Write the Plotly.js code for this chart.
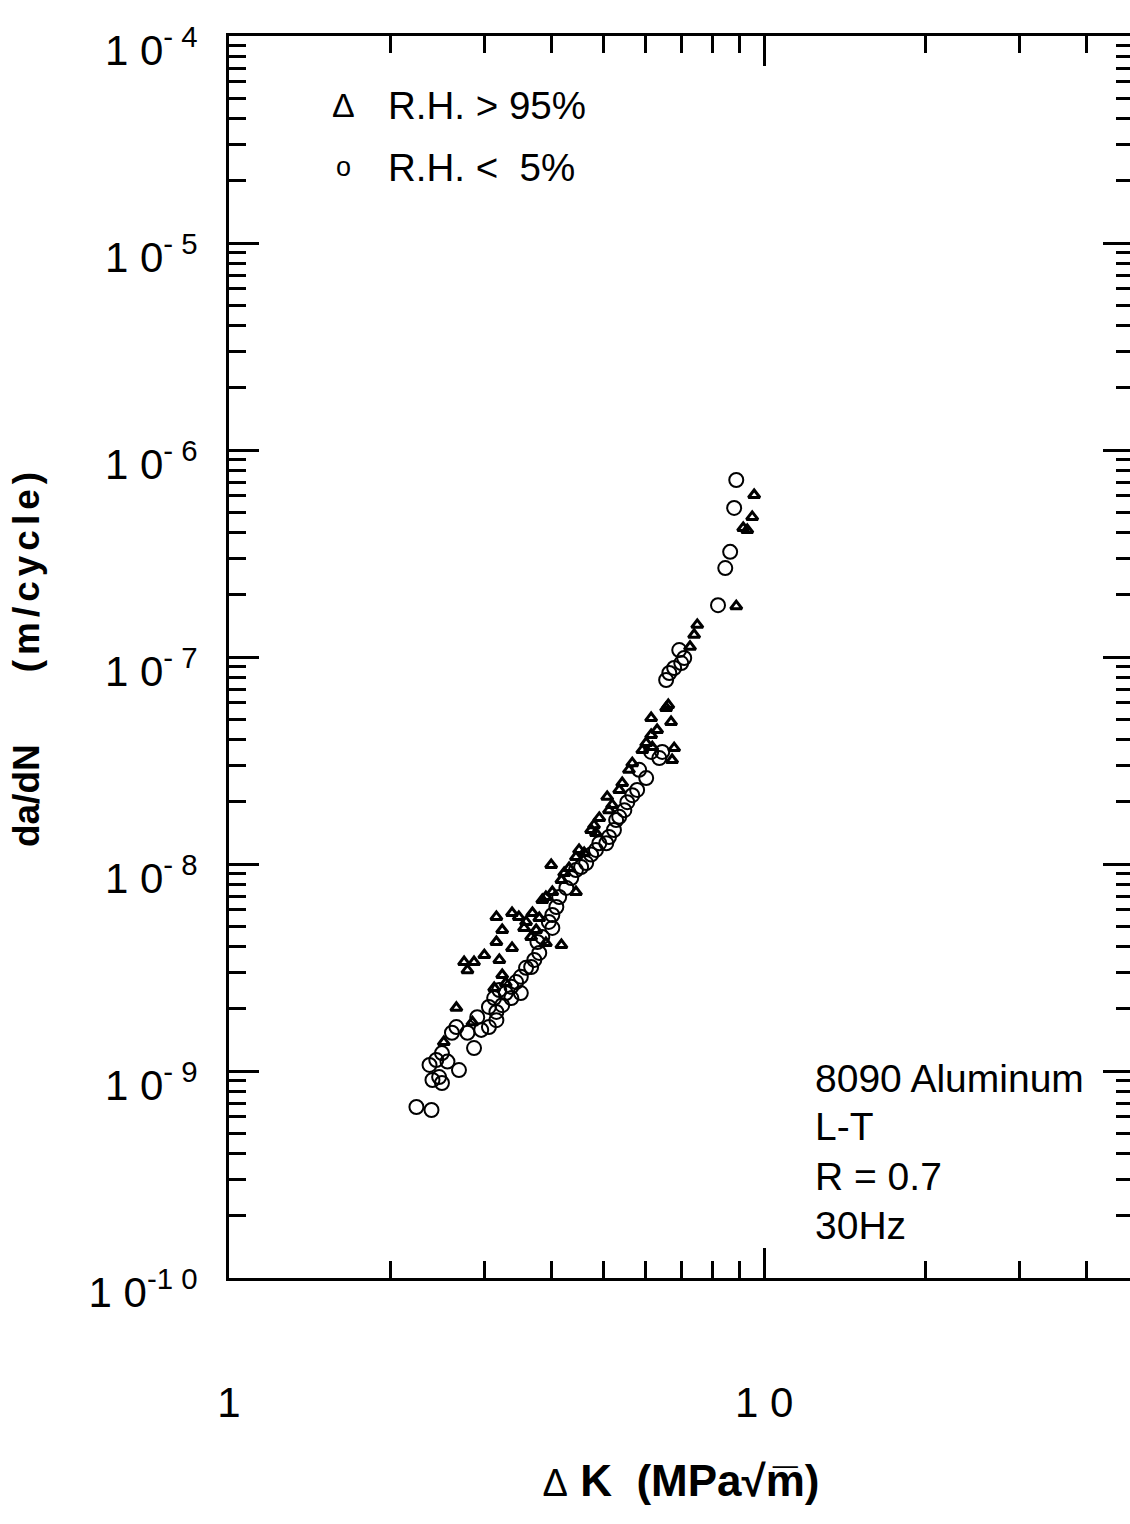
<!DOCTYPE html>
<html>
<head>
<meta charset="utf-8">
<script src="https://cdn.plot.ly/plotly-3.0.1.min.js"></script>
<style>
  html, body { margin: 0; padding: 0; background: #fff; overflow: hidden; }
  #chart { width: 1136px; height: 1524px; }
</style>
</head>
<body>
<div id="chart"></div>
<script>
// R.H. > 95% (triangles)
const dK_wet = [9.58, 9.50, 9.14, 9.30, 8.87, 7.50, 7.40, 7.27, 6.62, 6.56, 6.15, 6.70, 6.31, 6.15,
  6.02, 6.18, 5.92, 6.79, 6.73, 5.67, 5.59, 5.43, 5.36, 5.09, 5.20, 5.13, 4.92, 4.81, 4.75, 4.85,
  4.51, 4.61, 4.45, 4.00, 4.32, 4.23, 4.18, 4.02, 3.91, 3.85, 4.45, 3.38, 3.48, 3.59, 3.69, 3.80,
  3.75, 3.56, 3.67, 3.24, 3.16, 3.91, 4.18, 3.16, 3.00, 3.20, 3.38, 2.75, 2.87, 2.79, 3.24, 3.29,
  3.13, 2.66, 2.85, 2.52];
const dadN_wet = [6.06e-7, 4.75e-7, 4.20e-7, 4.11e-7, 1.76e-7, 1.43e-7, 1.28e-7, 1.12e-7, 5.86e-8, 5.67e-8, 5.07e-8, 4.85e-8, 4.44e-8, 4.20e-8,
  3.84e-8, 3.67e-8, 3.55e-8, 3.63e-8, 3.18e-8, 3.07e-8, 2.85e-8, 2.46e-8, 2.28e-8, 2.11e-8, 1.93e-8, 1.82e-8, 1.67e-8, 1.54e-8, 1.46e-8, 1.41e-8,
  1.17e-8, 1.13e-8, 1.08e-8, 9.89e-9, 9.56e-9, 9.05e-9, 8.37e-9, 7.32e-9, 6.93e-9, 6.70e-9, 7.32e-9, 5.80e-9, 5.55e-9, 5.25e-9, 5.80e-9, 5.48e-9,
  4.80e-9, 4.91e-9, 4.44e-9, 4.80e-9, 5.55e-9, 4.15e-9, 4.06e-9, 4.20e-9, 3.63e-9, 3.44e-9, 3.93e-9, 3.36e-9, 3.36e-9, 3.07e-9, 2.91e-9, 2.66e-9,
  2.52e-9, 2.02e-9, 1.72e-9, 1.38e-9];

// R.H. < 5% (circles)
const dK_dry = [8.87, 8.79, 8.64, 8.46, 8.20, 6.94, 6.79, 6.65, 6.56, 7.00, 7.09, 6.15, 6.45, 6.37,
  5.84, 6.02, 5.79, 5.67, 5.55, 5.48, 5.36, 5.29, 5.24, 5.13, 5.07, 4.92, 4.85, 4.75, 4.65, 4.55,
  4.45, 4.36, 4.27, 4.14, 4.09, 4.02, 3.96, 4.02, 3.85, 3.77, 3.80, 3.72, 3.67, 3.59, 3.51, 3.44,
  3.37, 3.20, 3.13, 3.29, 3.37, 3.51, 3.06, 3.16, 3.24, 2.91, 2.96, 3.06, 3.16, 2.79, 2.66, 2.61,
  2.87, 2.50, 2.44, 2.56, 2.37, 2.69, 2.47, 2.50, 2.40, 2.24, 2.39];
const dadN_dry = [7.16e-7, 5.25e-7, 3.22e-7, 2.69e-7, 1.78e-7, 1.08e-7, 8.85e-8, 8.37e-8, 7.74e-8, 9.35e-8, 9.89e-8, 3.48e-8, 3.48e-8, 3.25e-8,
  2.85e-8, 2.60e-8, 2.28e-8, 2.15e-8, 1.99e-8, 1.82e-8, 1.69e-8, 1.63e-8, 1.46e-8, 1.35e-8, 1.26e-8, 1.26e-8, 1.17e-8, 1.11e-8, 1.01e-8, 9.67e-9,
  9.35e-9, 8.56e-9, 7.66e-9, 6.93e-9, 6.20e-9, 5.67e-9, 5.25e-9, 4.91e-9, 4.44e-9, 4.20e-9, 3.72e-9, 3.44e-9, 3.18e-9, 3.15e-9, 2.85e-9, 2.69e-9,
  2.55e-9, 2.46e-9, 2.25e-9, 2.38e-9, 2.25e-9, 2.38e-9, 2.04e-9, 1.93e-9, 2.08e-9, 1.82e-9, 1.58e-9, 1.63e-9, 1.76e-9, 1.53e-9, 1.63e-9, 1.53e-9,
  1.29e-9, 1.22e-9, 1.13e-9, 1.11e-9, 1.07e-9, 1.01e-9, 9.35e-10, 8.75e-10, 9.05e-10, 6.70e-10, 6.48e-10];

const xTickVals = [1, 10, 100];
const xTickText = ['1', '1 0', '1 0 0'];
const yTickVals = [1e-10, 1e-9, 1e-8, 1e-7, 1e-6, 1e-5, 1e-4];
const yExponents = ['-1 0', '- 9', '- 8', '- 7', '- 6', '- 5', '- 4'];
const yTickText = yExponents.map(e => '1 0<sup>' + e + '</sup>');

const legendSymbols = ['Δ', 'o'];
const legendLabels = ['R.H. > 95%', 'R.H. <  5%'];
const noteLines = ['8090 Aluminum', 'L-T', 'R = 0.7', '30Hz'];

// minor tick positions (2..9 within each decade)
const xMinor = [];
for (let d = 0; d <= 1; d++) for (let k = 2; k <= 9; k++) xMinor.push(k * Math.pow(10, d));
const yMinor = [];
for (let d = -10; d <= -5; d++) for (let k = 2; k <= 9; k++) yMinor.push(k * Math.pow(10, d));

const FONT = 'Liberation Sans, Arial, Helvetica, sans-serif';
const NB = '\u00A0';

const traces = [
  {
    x: dK_wet, y: dadN_wet, type: 'scatter', mode: 'markers', name: 'R.H. > 95%',
    marker: { symbol: 'triangle-up-open', size: 10, color: '#000', line: { width: 3, color: '#000' } }
  },
  {
    x: dK_dry, y: dadN_dry, type: 'scatter', mode: 'markers', name: 'R.H. < 5%',
    marker: { symbol: 'circle-open', size: 14, color: '#000', line: { width: 2, color: '#000' } }
  }
];

const W = 1136, H = 1524;
const L = 229, R = 3, T = 36, B = 246;
const pw = W - L - R, ph = H - T - B;
const px = v => (v - L) / pw;
const py = v => (H - B - v) / ph;

const annotations = [];
const legendY = [105, 167];
legendSymbols.forEach((s, i) => {
  annotations.push({ text: s, x: px(343), y: py(legendY[i]), xref: 'paper', yref: 'paper',
    xanchor: 'center', yanchor: 'middle', showarrow: false,
    font: { family: FONT, size: i === 0 ? 34 : 27, color: '#000' } });
  annotations.push({ text: legendLabels[i], x: px(386), y: py(legendY[i]), xref: 'paper', yref: 'paper',
    xanchor: 'left', yanchor: 'middle', showarrow: false,
    font: { family: FONT, size: 38.5, color: '#000' } });
});
const noteY = [1078, 1126, 1176, 1225];
noteLines.forEach((s, i) => {
  annotations.push({ text: s, x: px(813), y: py(noteY[i]), xref: 'paper', yref: 'paper',
    xanchor: 'left', yanchor: 'middle', showarrow: false,
    font: { family: FONT, size: 39, color: '#000' } });
});

const layout = {
  width: W, height: H,
  margin: { l: L, r: R, t: T, b: B, pad: 0 },
  paper_bgcolor: '#fff', plot_bgcolor: '#fff',
  showlegend: false,
  font: { family: FONT, color: '#000' },
  xaxis: {
    type: 'log', range: [0, Math.log10(48.9)],
    tickmode: 'array', tickvals: xTickVals, ticktext: xTickText,
    ticks: 'inside', ticklen: 30, tickwidth: 3, tickcolor: '#000',
    showline: true, linewidth: 3, linecolor: '#000', mirror: 'ticks',
    showgrid: false, zeroline: false,
    ticklabelstandoff: 86,
    tickfont: { family: FONT, size: 42, color: '#000' },
    minor: { tickmode: 'array', tickvals: xMinor, ticks: 'inside', ticklen: 17, tickwidth: 3, tickcolor: '#000', showgrid: false },
    title: { text: '<span style="font-size:38px">Δ</span> <b>K' + NB + NB + '(MPa√m̅)</b>', standoff: 40,
             font: { family: FONT, size: 44, color: '#000' } }
  },
  yaxis: {
    type: 'log', range: [-10, -4],
    tickmode: 'array', tickvals: yTickVals, ticktext: yTickText,
    ticks: 'inside', ticklen: 30, tickwidth: 3, tickcolor: '#000',
    showline: true, linewidth: 3, linecolor: '#000', mirror: 'ticks',
    showgrid: false, zeroline: false,
    ticklabelstandoff: 20,
    ticklabelshift: 14,
    tickfont: { family: FONT, size: 42, color: '#000' },
    minor: { tickmode: 'array', tickvals: yMinor, ticks: 'inside', ticklen: 17, tickwidth: 3, tickcolor: '#000', showgrid: false },
    title: { text: '<b>da/dN' + NB.repeat(7) + '<span style="letter-spacing:5px">(m/cycle)</span></b>', standoff: 38,
             font: { family: FONT, size: 37, color: '#000' } }
  },
  annotations: annotations
};

Plotly.newPlot('chart', traces, layout, { displayModeBar: false, staticPlot: true });
</script>
</body>
</html>
